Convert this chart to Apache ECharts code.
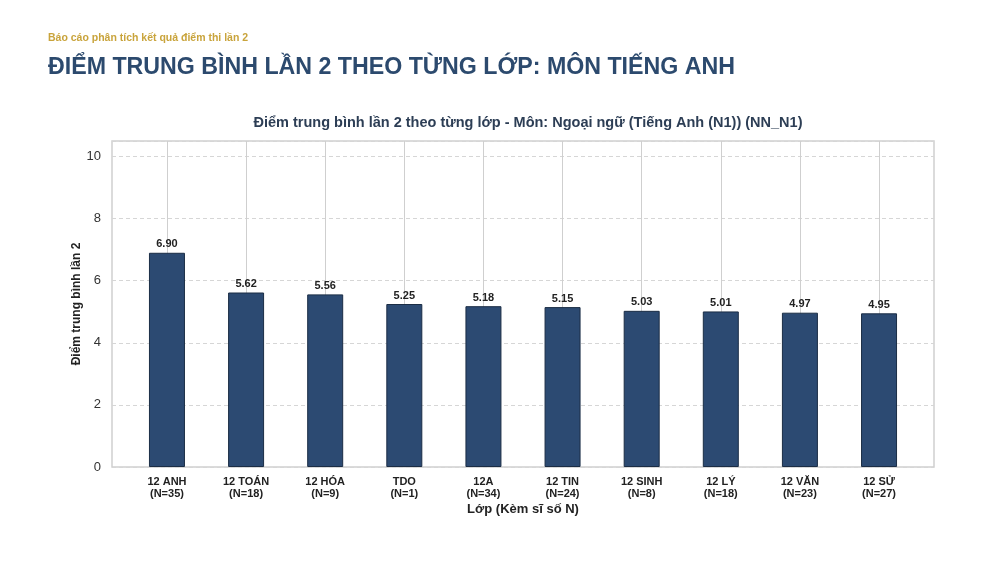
<!DOCTYPE html>
<html>
<head>
<meta charset="utf-8">
<script src="https://cdn.jsdelivr.net/npm/echarts@6/dist/echarts.min.js"></script>
<style>html,body{margin:0;padding:0;background:#fff}#c{width:1000px;height:561px}</style>
</head>
<body>
<div id="c"></div>
<script>
const classNames = ['12 ANH','12 TOÁN','12 HÓA','TDO','12A','12 TIN','12 SINH','12 LÝ','12 VĂN','12 SỬ'];
const classSizes = [35,18,9,1,34,24,8,18,23,27];
const avgScores = [6.90,5.62,5.56,5.25,5.18,5.15,5.03,5.01,4.97,4.95];
const yTicks = [0,2,4,6,8,10];

const FONT = '"Liberation Sans", Arial, sans-serif';
const categories = classNames.map((n,i)=> n + '\n(N=' + classSizes[i] + ')');

const chart = echarts.init(document.getElementById('c'));
chart.setOption({
  backgroundColor:'#ffffff',
  animation:false,
  title:[
    {text:'Báo cáo phân tích kết quả điểm thi lần 2', left:43, top:28,
     textStyle:{fontFamily:FONT, fontSize:10.5, fontWeight:'bold', color:'#c9a43c'}},
    {text:'ĐIỂM TRUNG BÌNH LẦN 2 THEO TỪNG LỚP: MÔN TIẾNG ANH', left:43, top:51,
     textStyle:{fontFamily:FONT, fontSize:23.2, fontWeight:'bold', color:'#2c4a6e'}},
    {text:'Điểm trung bình lần 2 theo từng lớp - Môn: Ngoại ngữ (Tiếng Anh (N1)) (NN_N1)', left:523, top:110, textAlign:'center',
     textStyle:{fontFamily:FONT, fontSize:14.5, fontWeight:'bold', color:'#2d3e55'}}
  ],
  grid:[
    {left:112, right:66, top:141, bottom:94, show:true, borderColor:'#d0d0d0', borderWidth:1.5, backgroundColor:'transparent'},
    {left:127.4, right:81.4, top:141, bottom:94},
    {left:167, right:121, top:141, bottom:94}
  ],
  xAxis:[
    {type:'value', gridIndex:0, min:0, max:1, show:false},
    {type:'category', gridIndex:1, data:categories, boundaryGap:true,
     axisLine:{show:false}, axisTick:{show:false}, splitLine:{show:false},
     axisLabel:{fontFamily:FONT, fontSize:11, fontWeight:'bold', color:'#222', lineHeight:12, margin:9, interval:0},
     name:'Lớp (Kèm sĩ số N)', nameLocation:'middle', nameGap:36, nameMoveOverlap:false,
     nameTextStyle:{fontFamily:FONT, fontSize:13, fontWeight:'bold', color:'#222'}},
    {type:'category', gridIndex:2, data:classNames, boundaryGap:false,
     axisLine:{show:false}, axisTick:{show:false}, axisLabel:{show:false},
     splitLine:{show:true, interval:0, lineStyle:{color:'#cfcfcf', width:1}}}
  ],
  yAxis:[
    {type:'value', gridIndex:0, min:0, max:10.5, interval:2,
     axisLine:{show:false}, axisTick:{show:false},
     axisLabel:{fontFamily:FONT, fontSize:13, color:'#333', margin:11,
       formatter:v=> yTicks.indexOf(v)>=0 ? String(v) : ''},
     splitLine:{show:true, lineStyle:{color:'#d6d6d6', type:[4,3], width:1}},
     name:'Điểm trung bình lần 2', nameLocation:'middle', nameGap:29, nameRotate:90, nameMoveOverlap:false,
     nameTextStyle:{fontFamily:FONT, fontSize:12, fontWeight:'bold', color:'#222'}},
    {type:'value', gridIndex:1, min:0, max:10.5, show:false, splitLine:{show:false}},
    {type:'value', gridIndex:2, min:0, max:10.5, show:false, splitLine:{show:false}}
  ],
  series:[
    {type:'bar', xAxisIndex:1, yAxisIndex:1, data:avgScores, barWidth:36, z:5,
     itemStyle:{color:'#2c4a72', borderColor:'#1b2d45', borderWidth:1},
     label:{show:true, position:'top', distance:3, fontFamily:FONT, fontSize:11, fontWeight:'bold', color:'#222',
       formatter:p=>p.value.toFixed(2)}}
  ]
});
</script>
</body>
</html>
